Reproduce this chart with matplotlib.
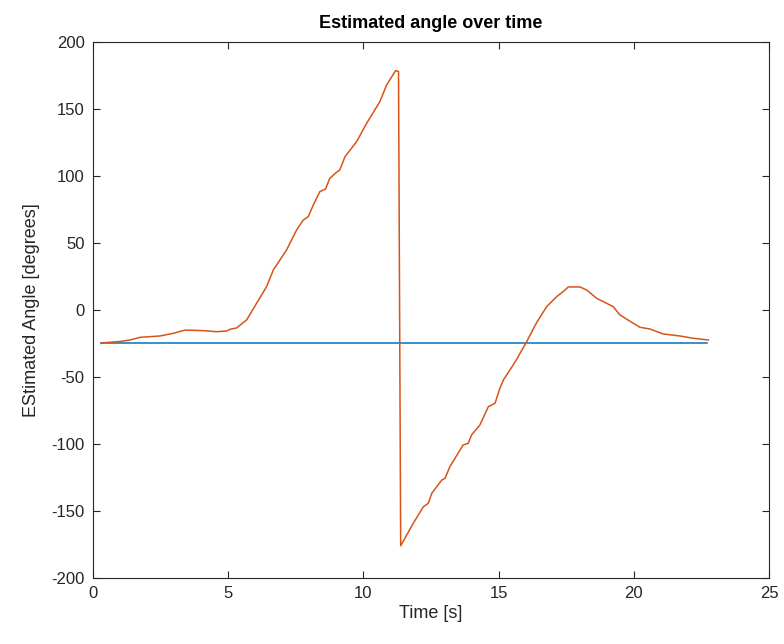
import numpy as np
import matplotlib
matplotlib.use('Agg')
import matplotlib.pyplot as plt

# Reference angle (constant) and estimated angle
t_ref = [0.3, 22.7]
angle_ref = [-25, -25]

t_est = [0.3, 0.38, 1.0, 1.37, 1.74, 2.48, 2.97, 3.4, 4.08, 4.57, 4.94, 5.07, 5.31,
         5.68, 6.05, 6.42, 6.67, 7.16, 7.53, 7.78, 7.96, 8.15, 8.39, 8.6, 8.76,
         9.01, 9.13, 9.32, 9.75, 10.12, 10.61, 10.86, 11.19, 11.3,
         11.38, 11.85, 12.22, 12.4, 12.53, 12.9, 13.02, 13.2, 13.69, 13.88, 14.0,
         14.31, 14.62, 14.87, 15.05, 15.18, 15.54, 15.67, 16.04, 16.41, 16.78,
         17.15, 17.39, 17.58, 18.01, 18.26, 18.63, 19.24, 19.49, 19.98, 20.23,
         20.6, 21.09, 21.71, 22.2, 22.76]
angle_est = [-25, -24.5, -23.5, -22.4, -20.4, -19.4, -17.4, -15, -15.4, -16.2, -15.7, -14.4, -13.4,
             -7.5, 5, 17.4, 29.9, 44.8, 59.7, 67.2, 69.6, 78.4, 88.3, 90.3, 98.3,
             102.8, 104.5, 114.4, 125.6, 139.3, 155.5, 167.9, 178.6, 178.0,
             -176, -159, -146.8, -144.3, -136.8, -126.9, -125.6, -116.9, -100.7, -99.5, -93.3,
             -85.8, -72.2, -69.6, -58.4, -52.2, -41, -36.8, -23.6, -9.3, 2.5,
             10, 13.7, 17.2, 17.2, 14.9, 8.7, 2.5, -3.7, -9.9, -12.9,
             -14.2, -17.9, -19.4, -21.1, -22.4]

plt.rcParams['font.family'] = ['Liberation Sans', 'DejaVu Sans']
plt.rcParams['axes.unicode_minus'] = False

fig = plt.figure(figsize=(7.84, 6.44), dpi=100)
ax = fig.add_axes([0.1186, 0.1025, 0.8622, 0.8323])

ax.plot(t_ref, angle_ref, color='#0072BD', linewidth=1.1)
ax.plot(t_est, angle_est, color='#D95319', linewidth=1.1)

ax.set_xlim(0, 25)
ax.set_ylim(-200, 200)
ax.set_xticks(np.arange(0, 26, 5))
ax.set_yticks(np.arange(-200, 201, 50))

dark = '#262626'
ax.tick_params(direction='in', top=True, right=True, length=5, width=0.8,
               labelsize=12, colors=dark, pad=6)
for s in ax.spines.values():
    s.set_color(dark)
    s.set_linewidth(0.8)

ax.set_xlabel('Time [s]', fontsize=13, color=dark, labelpad=3)
ax.set_ylabel('EStimated Angle [degrees]', fontsize=13, color=dark, labelpad=8)
ax.set_title('Estimated angle over time', fontsize=13, fontweight='bold', color='black', pad=10)

fig.savefig('out.png', dpi=100)
